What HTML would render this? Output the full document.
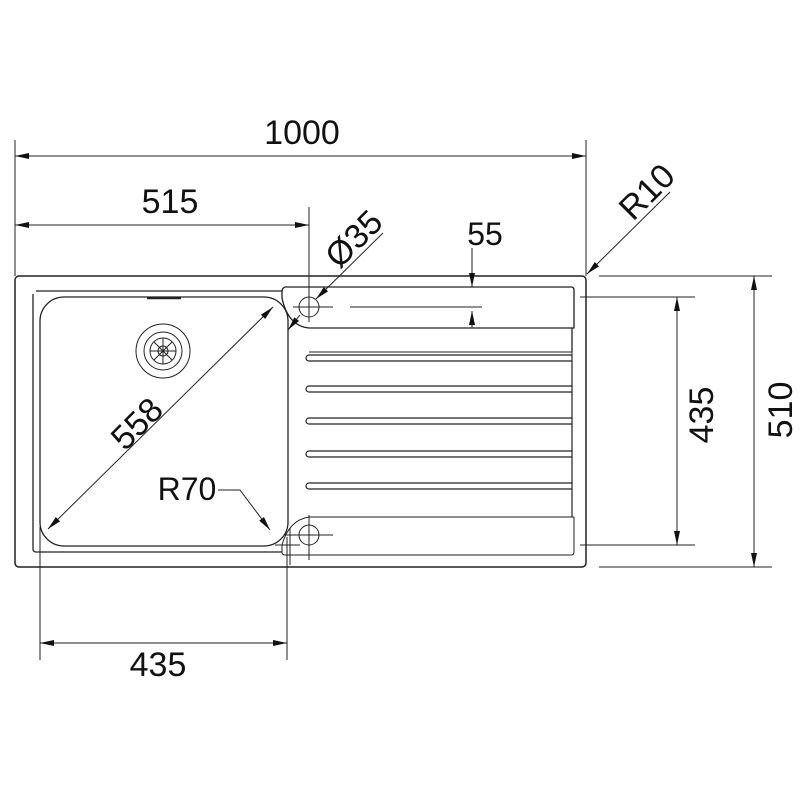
<!DOCTYPE html>
<html><head><meta charset="utf-8"><style>html,body{margin:0;padding:0;background:#fff}svg{display:block}</style></head>
<body>
<svg width="800" height="800" viewBox="0 0 800 800" xmlns="http://www.w3.org/2000/svg">
<defs>
<marker id="a" viewBox="0 0 14 6" refX="14" refY="3" markerWidth="14" markerHeight="6" markerUnits="userSpaceOnUse" orient="auto-start-reverse"><path d="M0,0L14,3L0,6Z" fill="#111"/></marker>
</defs>
<g fill="none" stroke="#222" stroke-width="1">
<rect x="15" y="276" width="571" height="291" rx="4" stroke-width="1.5"/>
<path d="M36,291 H282 M33,294 V549 Q33,552 36,552 H282" stroke-width="1.3"/>
<rect x="40" y="297" width="248" height="249" rx="24" stroke-width="1.3"/>
<path d="M147,298 H181" stroke-width="2.5"/>
<circle cx="163" cy="351" r="27"/><circle cx="163" cy="351" r="19"/><circle cx="163" cy="351" r="13"/><circle cx="163" cy="351" r="5"/>
<path d="M163,338V364M150,351H176M154,342L172,360M172,342L154,360"/>
<path d="M285,287 H571 Q574,287 574,290 V328 H572 V352" stroke-width="1.3"/>
<path d="M285,287 Q282,288 282,292 V298 Q288,326 309,328 H572" stroke-width="1.3"/>
<path d="M309,352 H572 V357" />
<path d="M574,517 V552 Q574,555 571,555 H285 Q282,555 282,552 V545 Q289,520 309,517 H574"/>
<g stroke-width="1.2">
<path d="M309,355 H572 V361 H309 A3,3 0 0 1 309,355"/>
<path d="M309,386 H572 V392 H309 A3,3 0 0 1 309,386"/>
<path d="M309,418 H572 V424 H309 A3,3 0 0 1 309,418"/>
<path d="M309,451 H572 V457 H309 A3,3 0 0 1 309,451"/>
<path d="M309,483 H572 V489 H309 A3,3 0 0 1 309,483"/>
<path d="M572,361 V386 M572,392 V418 M572,424 V451 M572,457 V483 M572,489 V517"/>
</g>
<circle cx="309" cy="307" r="10"/><path d="M293,307H333M309,284V322"/>
<circle cx="309" cy="535" r="10"/><path d="M285,535H333M309,515V560M275,545H300M290,528V565"/>
<path d="M350,307H482"/>
<path d="M15,140V276M586,140V276M309,207V292M40,527V660M287,537V660M599,276H772M580,297H695M580,545H695M599,567H772"/>
<path d="M15,156H586" marker-start="url(#a)" marker-end="url(#a)"/>
<path d="M15,225H309" marker-start="url(#a)" marker-end="url(#a)"/>
<path d="M40,643H287" marker-start="url(#a)" marker-end="url(#a)"/>
<path d="M677,297V545" marker-start="url(#a)" marker-end="url(#a)"/>
<path d="M754,276V567" marker-start="url(#a)" marker-end="url(#a)"/>
<path d="M670,192L587,274" marker-end="url(#a)"/>
<path d="M472,248V287" marker-end="url(#a)"/>
<path d="M472,328V311" marker-end="url(#a)"/>
<path d="M383,233L316,299" marker-end="url(#a)"/>
<path d="M300,315L288,330" marker-end="url(#a)"/>
<path d="M273,307L48,529" marker-start="url(#a)" marker-end="url(#a)"/>
<path d="M218,490H240L270,530" marker-end="url(#a)"/>
</g>
<g font-family="Liberation Sans, sans-serif" font-size="34" fill="#111" text-anchor="middle">
<text x="302" y="144">1000</text>
<text x="170" y="213">515</text>
<text x="158" y="676">435</text>
<text x="485" y="245" font-size="32">55</text>
<text x="187" y="500" font-size="32">R70</text>
<text transform="translate(713,415) rotate(-90)">435</text>
<text transform="translate(792,410) rotate(-90)">510</text>
<text transform="translate(655,200) rotate(-45)">R10</text>
<text transform="translate(362,247) rotate(-45)">Ø35</text>
<text transform="translate(145,432) rotate(-45)">558</text>
</g>
</svg>
</body></html>
